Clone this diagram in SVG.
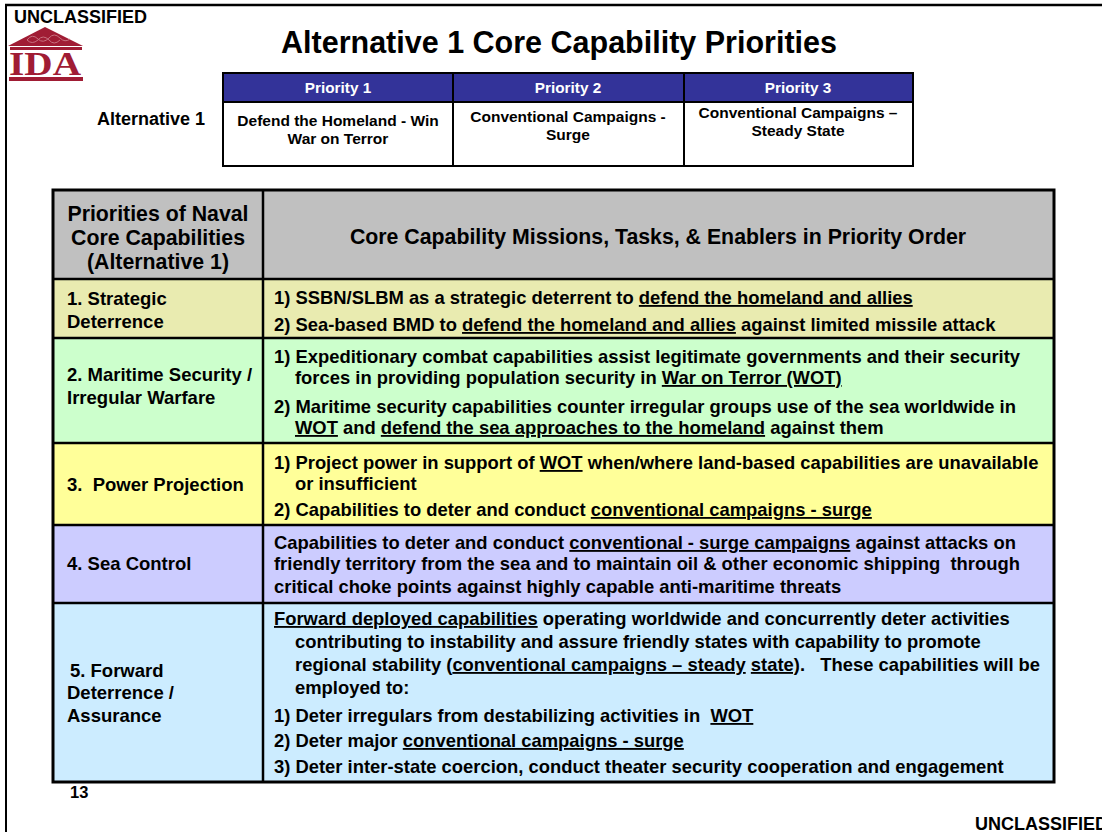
<svg xmlns="http://www.w3.org/2000/svg" width="1102" height="832" viewBox="0 0 1102 832">
<style>
text{font-family:"Liberation Sans",Arial,sans-serif;font-weight:bold;fill:#000}
.cls{font-size:18px}
.title{font-size:30.5px;text-anchor:middle}
.th{font-size:15.3px;fill:#fff;text-anchor:middle}
.tb{font-size:15.5px;text-anchor:middle}
.alt{font-size:18px;text-anchor:middle}
.hd{font-size:21.3px;text-anchor:middle}
.lab{font-size:18.5px}
.bd{font-size:18.4px}
.u{text-decoration:underline}
.grid{stroke:#000;stroke-width:2.5;fill:none}
.tgrid{stroke:#000;stroke-width:2;fill:none}
.logo{fill:#A01C34}
</style>

<g id="frame">
<line x1="5" y1="5" x2="1102" y2="5" stroke="#000" stroke-width="2.5"/>
<line x1="6" y1="4" x2="6" y2="832" stroke="#000" stroke-width="2"/>
<text class="cls" x="14" y="23">UNCLASSIFIED</text>
<text class="cls" x="975" y="830">UNCLASSIFIED</text>
<text x="70" y="798" style="font-size:16.5px">13</text>
</g>

<g id="logo">
<polygon class="logo" points="8,46 45,27 83,46"/>
<rect class="logo" x="10" y="47" width="72" height="3"/>
<path d="M27,40 q5,-7 11,-1 q5,5 11,-1 q5,-6 11,0 q5,5 10,1 M27,40 q5,5 11,0 q5,-6 11,0 q5,6 11,0" fill="none" stroke="#C8707F" stroke-width="1"/>
<text x="9" y="75" textLength="72" lengthAdjust="spacingAndGlyphs" style="font-family:'Liberation Serif','Times New Roman',serif;font-size:33px;fill:#A01C34">IDA</text>
<rect class="logo" x="9" y="77" width="74" height="4"/>
</g>

<g id="title">
<text class="title" x="559" y="53">Alternative 1 Core Capability Priorities</text>
</g>

<g id="priority-table">
<text class="alt" x="151" y="125">Alternative 1</text>
<rect x="223" y="73" width="690" height="29" fill="#333399"/>
<rect x="223" y="102" width="690" height="64" fill="#fff"/>
<rect class="tgrid" x="223" y="73" width="690" height="93"/>
<line class="tgrid" x1="223" y1="102" x2="913" y2="102"/>
<line class="tgrid" x1="453" y1="73" x2="453" y2="166"/>
<line class="tgrid" x1="684" y1="73" x2="684" y2="166"/>
<g id="p1">
<text class="th" x="338" y="93">Priority 1</text>
<text class="tb" x="338" y="126">Defend the Homeland - Win</text>
<text class="tb" x="338" y="144">War on Terror</text>
</g>
<g id="p2">
<text class="th" x="568" y="93">Priority 2</text>
<text class="tb" x="568" y="122">Conventional Campaigns -</text>
<text class="tb" x="568" y="140">Surge</text>
</g>
<g id="p3">
<text class="th" x="798" y="93">Priority 3</text>
<text class="tb" x="798" y="118">Conventional Campaigns –</text>
<text class="tb" x="798" y="136">Steady State</text>
</g>
</g>

<g id="main-table">
<g id="header">
<rect x="53" y="190" width="1001" height="89" fill="#C0C0C0"/>
<text class="hd" x="158" y="221">Priorities of Naval</text>
<text class="hd" x="158" y="245">Core Capabilities</text>
<text class="hd" x="158" y="269">(Alternative 1)</text>
<text class="hd" x="658" y="244">Core Capability Missions, Tasks, &amp; Enablers in Priority Order</text>
</g>
<g id="row1">
<rect x="53" y="279" width="1001" height="59" fill="#E9EBB0"/>
<text class="lab" x="67" y="305">1. Strategic</text>
<text class="lab" x="67" y="328">Deterrence</text>
<text class="bd" x="274" y="304">1) SSBN/SLBM as a strategic deterrent to <tspan class="u">defend the homeland and allies</tspan></text>
<text class="bd" x="274" y="331">2) Sea-based BMD to <tspan class="u">defend the homeland and allies</tspan> against limited missile attack</text>
</g>
<g id="row2">
<rect x="53" y="338" width="1001" height="105" fill="#CCFFCC"/>
<text class="lab" x="67" y="381">2. Maritime Security /</text>
<text class="lab" x="67" y="404">Irregular Warfare</text>
<text class="bd" x="274" y="363">1) Expeditionary combat capabilities assist legitimate governments and their security</text>
<text class="bd" x="295" y="384">forces in providing population security in <tspan class="u">War on Terror (WOT)</tspan></text>
<text class="bd" x="274" y="413">2) Maritime security capabilities counter irregular groups use of the sea worldwide in</text>
<text class="bd" x="295" y="434"><tspan class="u">WOT</tspan> and <tspan class="u">defend the sea approaches to the homeland</tspan> against them</text>
</g>
<g id="row3">
<rect x="53" y="443" width="1001" height="82" fill="#FFFF99"/>
<text class="lab" x="67" y="491">3.&#160; Power Projection</text>
<text class="bd" x="274" y="469">1) Project power in support of <tspan class="u">WOT</tspan> when/where land-based capabilities are unavailable</text>
<text class="bd" x="295" y="490">or insufficient</text>
<text class="bd" x="274" y="516">2) Capabilities to deter and conduct <tspan class="u">conventional campaigns - surge</tspan></text>
</g>
<g id="row4">
<rect x="53" y="525" width="1001" height="78" fill="#CCCCFF"/>
<text class="lab" x="67" y="570">4. Sea Control</text>
<text class="bd" x="274" y="549">Capabilities to deter and conduct <tspan class="u">conventional - surge campaigns</tspan> against attacks on</text>
<text class="bd" x="274" y="570">friendly territory from the sea and to maintain oil &amp; other economic shipping&#160; through</text>
<text class="bd" x="274" y="593">critical choke points against highly capable anti-maritime threats</text>
</g>
<g id="row5">
<rect x="53" y="603" width="1001" height="179" fill="#CCECFF"/>
<text class="lab" x="70" y="677">5. Forward</text>
<text class="lab" x="67" y="699">Deterrence /</text>
<text class="lab" x="67" y="722">Assurance</text>
<text class="bd" x="274" y="625"><tspan class="u">Forward deployed capabilities</tspan> operating worldwide and concurrently deter activities</text>
<text class="bd" x="295" y="648">contributing to instability and assure friendly states with capability to promote</text>
<text class="bd" x="295" y="671">regional stability (<tspan class="u">conventional campaigns – steady</tspan> <tspan class="u">state)</tspan>.&#160;&#160; These capabilities will be</text>
<text class="bd" x="295" y="694">employed to:</text>
<text class="bd" x="274" y="722">1) Deter irregulars from destabilizing activities in&#160; <tspan class="u">WOT</tspan></text>
<text class="bd" x="274" y="747">2) Deter major <tspan class="u">conventional campaigns - surge</tspan></text>
<text class="bd" x="274" y="773">3) Deter inter-state coercion, conduct theater security cooperation and engagement</text>
</g>
<g id="grid">
<line class="grid" x1="53" y1="279" x2="1054" y2="279"/>
<line class="grid" x1="53" y1="338" x2="1054" y2="338"/>
<line class="grid" x1="53" y1="443" x2="1054" y2="443"/>
<line class="grid" x1="53" y1="525" x2="1054" y2="525"/>
<line class="grid" x1="53" y1="603" x2="1054" y2="603"/>
<line class="grid" x1="263" y1="190" x2="263" y2="782"/>
<rect x="53" y="190" width="1001" height="592" fill="none" stroke="#000" stroke-width="3"/>
</g>
</g>
</svg>
